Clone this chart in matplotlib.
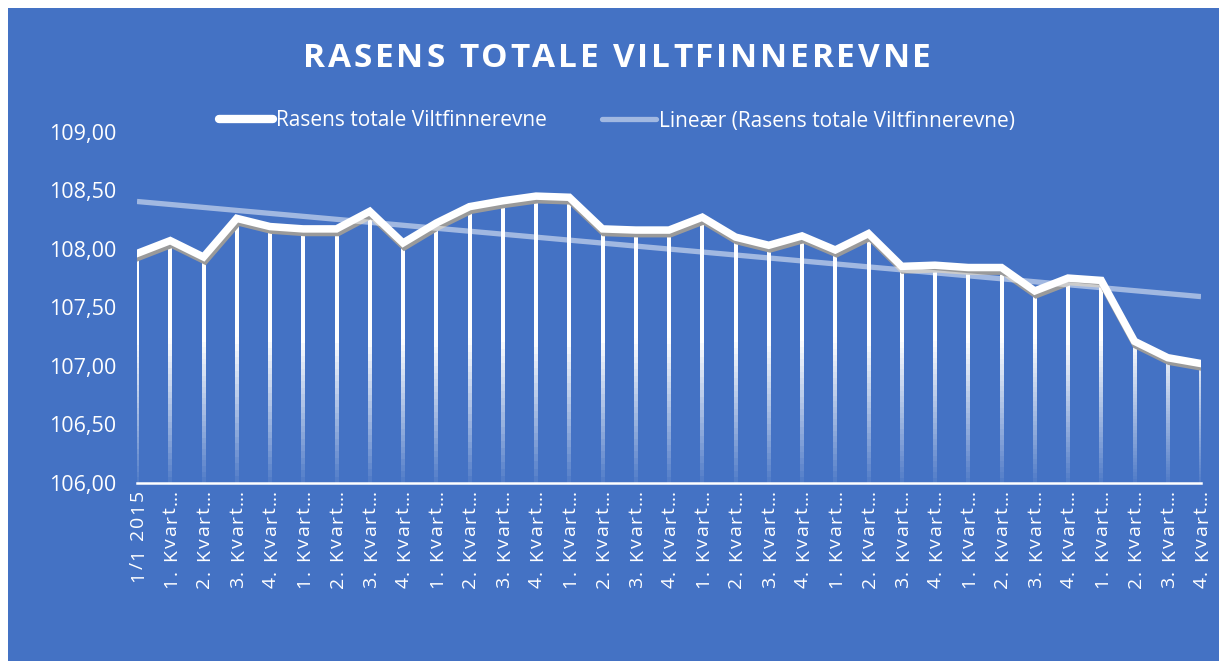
import matplotlib
matplotlib.use("Agg")
import matplotlib.pyplot as plt
import matplotlib.patheffects as pe
from matplotlib.collections import LineCollection
from matplotlib.patches import Rectangle
import numpy as np

# data
labels = ["1/1 2015"] + [f"{q}. Kvart…" for q in [1, 2, 3, 4] * 8]
values = [107.96, 108.07, 107.93, 108.26, 108.19, 108.17, 108.17, 108.32,
          108.05, 108.22, 108.36, 108.41, 108.45, 108.44, 108.17, 108.16,
          108.16, 108.27, 108.10, 108.03, 108.11, 107.99, 108.13, 107.85,
          107.86, 107.84, 107.84, 107.64, 107.75, 107.73, 107.21, 107.07,
          107.02]
series_name = "Rasens totale Viltfinnerevne"
trend_name = "Lineær (Rasens totale Viltfinnerevne)"
title = "RASENS TOTALE VILTFINNEREVNE"

BLUE = "#4472C4"
FONT = "Open Sans"
W, H = 1219, 661


def tracked_text(fig, s, x0, y0, track, rotation=0, **kw):
    """draw s char by char with extra spacing 'track' px.
    rotation 0: starts at (x0, y0), left to right.
    rotation 90: string reads upward, its END sits at (x0, y0), going down."""
    r = fig.canvas.get_renderer()
    fs = kw.get("fontsize", 12)
    pos = 0.0
    chars = s if rotation == 0 else s[::-1]
    for ch in chars:
        if rotation == 0:
            t = fig.text(x0 + pos, y0, ch, transform=None, ha="left", va="baseline", **kw)
        else:
            t = fig.text(x0, y0 - pos, ch, transform=None, ha="center", va="top",
                         rotation=90, **kw)
        bb = t.get_window_extent(r)
        size = bb.width if rotation == 0 else bb.height
        if ch == " ":
            size = fs * 0.26 * 100 / 72
        pos += size + track
    return pos


x = np.arange(len(values))
y = np.array(values)
ymin, ymax = 106.0, 109.0

fig = plt.figure(figsize=(W / 100, H / 100), dpi=100)
fig.patch.set_facecolor("white")
fig.patches.append(Rectangle((8 / W, 0), 1, 1 - 8 / H, transform=fig.transFigure,
                             facecolor=BLUE, edgecolor="none", zorder=-10))

ax = fig.add_axes([137 / W, 1 - 483 / H, (1201 - 137) / W, (483 - 131.7) / H])
ax.set_facecolor("none")
ax.set_xlim(0, len(values) - 1)
ax.set_ylim(ymin, ymax)

# drop lines, fading towards the baseline
segs, cols = [], []
n = 40
for xi, yi in zip(x, y):
    ys = np.linspace(ymin, yi, n + 1)
    for a, b in zip(ys[:-1], ys[1:]):
        segs.append([(xi, a), (xi, b)])
        mid = (a + b) / 2
        alpha = np.clip(0.06 + (mid - ymin) / 1.3, 0.06, 1.0)
        cols.append((1, 1, 1, alpha))
ax.add_collection(LineCollection(segs, colors=cols, linewidths=1.6, zorder=2,
                                 capstyle="butt", antialiased=False))

# main line with shadow
line, = ax.plot(x, y, color="white", lw=5.4, solid_joinstyle="miter", zorder=4,
                label=series_name,
                path_effects=[pe.SimpleLineShadow(offset=(1.0, -2.6), shadow_color="#9a9a9a", alpha=1),
                              pe.Normal()])

# linear trend
k, m = np.polyfit(x, y, 1)
trend, = ax.plot(x, k * x + m, color="white", alpha=0.5, lw=3.8, zorder=5, label=trend_name,
                 solid_capstyle="butt")

for s in ["top", "right", "left"]:
    ax.spines[s].set_visible(False)
ax.spines["bottom"].set_color("white")
ax.spines["bottom"].set_linewidth(1.8)
ax.spines["bottom"].set_zorder(6)

yt = np.arange(106.0, 109.01, 0.5)
ax.set_yticks(yt)
ax.set_yticklabels([f"{v:.2f}".replace(".", ",") for v in yt],
                   fontfamily=FONT, fontsize=15.5, color="white")
ax.tick_params(axis="y", length=0, pad=15)

ax.set_xticks(x)
ax.set_xticklabels([])
ax.tick_params(axis="x", length=0)

leg = fig.legend(handles=[line, trend], labels=[series_name, trend_name],
                 loc="center", bbox_to_anchor=(617 / W, 1 - 121 / H), ncol=2,
                 frameon=False, handlelength=2.6, columnspacing=2.6, handletextpad=0.15,
                 prop={"family": FONT, "size": 15})
for t in leg.get_texts():
    t.set_color("white")
leg.legend_handles[0].set_path_effects([])
leg.legend_handles[0].set_linewidth(6)
leg.legend_handles[0].set_solid_capstyle("round")
leg.legend_handles[1].set_solid_capstyle("round")

# title with letter spacing
tracked_text(fig, title, 303, H - 67, 2.8, color="white", fontfamily=FONT,
             fontweight="bold", fontsize=24)

# rotated category labels with letter spacing
for xi, lbl in zip(x, labels):
    px, _ = ax.transData.transform((xi, ymin))
    tracked_text(fig, lbl, px + 1, H - 490, 1.8, rotation=90, color="white",
                 fontfamily=FONT, fontsize=14)

fig.savefig("out.png", dpi=100)
